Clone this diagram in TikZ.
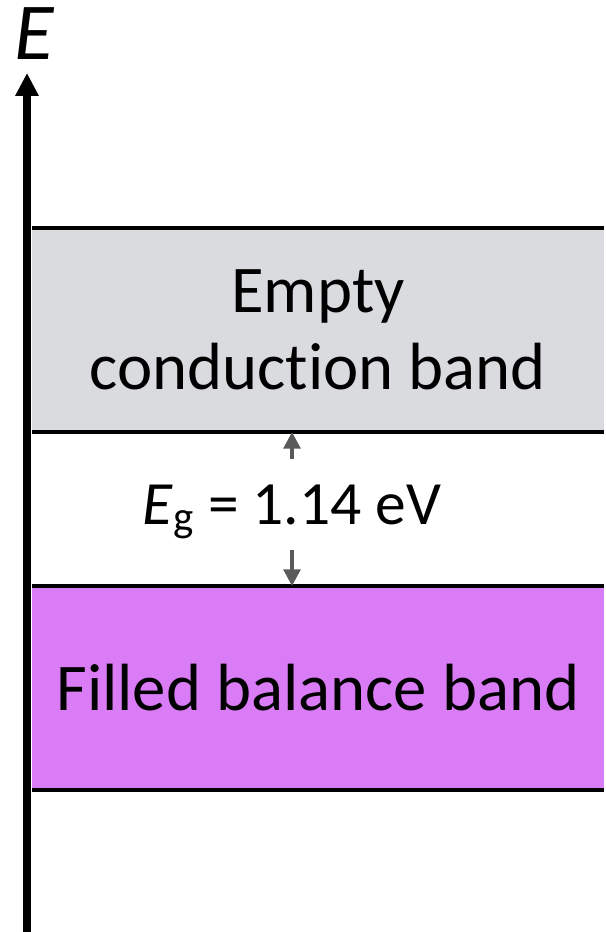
\documentclass[tikz,border=0pt]{standalone}
\usepackage{fontspec}
\setmainfont{Carlito}[Ligatures=NoCommon]
\usepackage{tikz}
\usetikzlibrary{arrows.meta, positioning}
\definecolor{condgrey}{RGB}{217,219,223}
\definecolor{valpink}{RGB}{218,124,245}
\definecolor{gapgrey}{RGB}{90,90,90}
\tikzset{
  band/.style={rectangle, draw=none, inner sep=0pt, align=center,
    minimum width=325.5pt, minimum height=115.7pt,
    font=\fontsize{38}{44}\selectfont},
  edge/.style={line width=2.2pt, color=black},
  axis/.style={line width=4.5pt, -{Triangle[length=13pt, width=12.5pt]}},
  gaparrow/.style={line width=2.2pt, color=gapgrey, -{Triangle[length=9.5pt, width=9.5pt]}}
}

\begin{document}
\begin{tikzpicture}[x=0.02cm, y=-0.02cm]
  \useasboundingbox (0,0) rectangle (605,932);

  % Bands
  \node[band, fill=condgrey] (cond) at (318,330) {Empty\\conduction band};
  \node[band, fill=valpink] (val) at (318,688) {Filled balance band};
  \draw[edge] (cond.north west) -- (cond.north east);
  \draw[edge] (cond.south west) -- (cond.south east);
  \draw[edge] (val.north west) -- (val.north east);
  \draw[edge] (val.south west) -- (val.south east);

  % Axis
  \coordinate (bot) at (27,932);
  \coordinate (top) at (27,73);
  \draw[axis] (bot) -- (top);
  \node[font=\fontsize{46}{50}\selectfont\itshape] (elabel) at (34,34) {E};

  % Gap
  \node[font=\fontsize{35}{40}\selectfont] (gap) at (292,512) {{\itshape E}\textsubscript{g} = 1.14 eV};
  \coordinate (uptail) at (292,459);
  \coordinate (downtail) at (292,550);
  \draw[gaparrow] (uptail) -- (cond.south -| uptail);
  \draw[gaparrow] (downtail) -- (val.north -| downtail);
\end{tikzpicture}
\end{document}
